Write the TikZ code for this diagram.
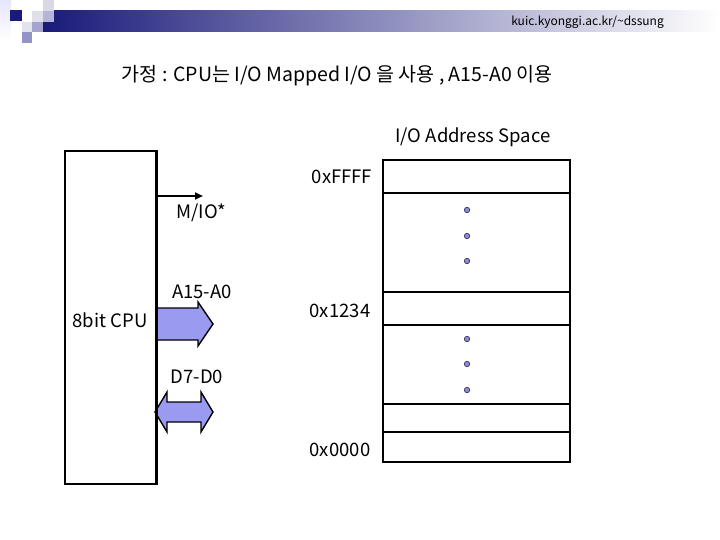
\documentclass[tikz,border=0pt]{standalone}
\usepackage{fontspec}
\setmainfont{Noto Sans CJK KR}
\usetikzlibrary{arrows.meta}
\definecolor{navy}{HTML}{1A1A7A}
\definecolor{arrowfill}{HTML}{9A9AF0}
\definecolor{dotfill}{HTML}{8C8CC8}
\tikzset{
  cell/.style={draw, line width=1.6pt},
  lbl/.style={font=\fontsize{18.5}{22}\selectfont, inner sep=0pt},
  fat/.style={draw, line width=1.4pt, fill=arrowfill, line join=miter},
  dot/.style={circle, draw=navy!70!black, line width=0.5pt, fill=dotfill, minimum size=5.5pt, inner sep=0pt},
}
\begin{document}
\begin{tikzpicture}[x=1pt, y=-1pt]
\useasboundingbox (0,0) rectangle (720,540);
% header decoration
\shade[left color=navy, right color=white] (43,11) rectangle (720,32);
\shade[top color=blue!10!white, bottom color=white] (0,0) rectangle (11,40);
\fill[navy] (10,10) rectangle (22,21);
\fill[blue!20!gray!25!white] (43,0) rectangle (54,11);
\fill[blue!20!gray!20!white] (32,11) rectangle (43,22);
\fill[blue!30!gray!45!white] (43,11) rectangle (54,22);
\fill[blue!20!gray!18!white] (22,22) rectangle (32,32);
\fill[blue!30!gray!55!white] (32,22) rectangle (43,32);
\fill[blue!30!gray!65!white] (22,32) rectangle (32,43);
\node[font=\fontsize{12}{14}\selectfont, anchor=east, inner sep=0pt] (url) at (664,22) {kuic.kyonggi.ac.kr/\textasciitilde dssung};
% title
\node[font=\fontsize{19.5}{23}\selectfont, inner sep=0pt] (title) at (337,76) {가정 : CPU는 I/O Mapped I/O 을 사용 , A15-A0 이용};
% CPU
\node[draw, line width=2pt, minimum width=91pt, minimum height=333pt, inner sep=0pt] (cpu) at (110.5,317.5) {};
\node[lbl] (cpulbl) at (110,320) {8bit CPU};
% M/IO*
\coordinate (mio) at (203,196);
\draw[line width=2pt, -{Triangle[length=8pt,width=7pt]}] (cpu.east |- mio) -- (mio);
\node[lbl] (miolbl) at (201,213) {M/IO*};
% A15-A0
\draw[fat] (156,308) -- (198,308) -- (198,302) -- (213,324) -- (198,346) -- (198,340) -- (156,340);
\node[lbl] (alb) at (202,292) {A15-A0};
% D7-D0
\draw[fat] (155,412) -- (167,392) -- (167,402) -- (201,402) -- (201,392) -- (213,412) -- (201,432) -- (201,422) -- (167,422) -- (167,432) -- cycle;
\node[lbl] (dlb) at (197,377) {D7-D0};
\draw[line width=2pt] (cpu.north east) -- (cpu.south east);
% memory
\node[lbl] (ios) at (473,137) {I/O Address Space};
\draw[cell] (383,160) rectangle (570,193);
\draw[cell] (383,193) rectangle (570,292);
\draw[cell] (383,292) rectangle (570,325);
\draw[cell] (383,325) rectangle (570,404);
\draw[cell] (383,404) rectangle (570,432);
\draw[cell] (383,432) rectangle (570,462);
\foreach \y in {210,236,261,339,364,390} \node[dot] at (467,\y) {};
\node[lbl] (a1) at (342,177) {0xFFFF};
\node[lbl] (a2) at (340,311) {0x1234};
\node[lbl] (a3) at (340,450) {0x0000};
\end{tikzpicture}
\end{document}
